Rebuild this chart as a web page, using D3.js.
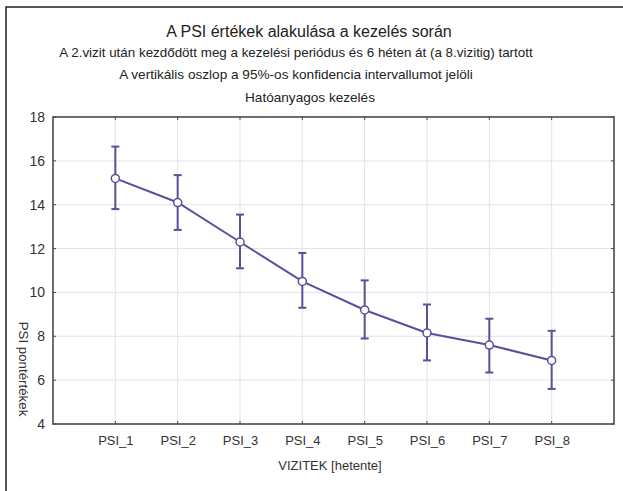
<!DOCTYPE html>
<html>
<head>
<meta charset="utf-8">
<script src="https://cdn.jsdelivr.net/npm/d3@7"></script>
<style>
  html, body { margin: 0; padding: 0; background: #fff; }
  svg { display: block; font-family: "Liberation Sans", Arial, sans-serif; }
</style>
</head>
<body>
<svg id="chart" width="623" height="491"></svg>
<script>
// Visits (weekly) and PSI score means with 95% confidence limits
const visits = ["PSI_1", "PSI_2", "PSI_3", "PSI_4", "PSI_5", "PSI_6", "PSI_7", "PSI_8"];
const means  = [15.2, 14.1, 12.3, 10.5, 9.2, 8.15, 7.6, 6.9];
const upper  = [16.65, 15.35, 13.55, 11.8, 10.55, 9.45, 8.8, 8.25];
const lower  = [13.8, 12.85, 11.1, 9.3, 7.9, 6.9, 6.35, 5.6];
const yTicks = [4, 6, 8, 10, 12, 14, 16, 18];

const titleLines = [
  { text: "A PSI értékek alakulása a kezelés során", size: 16, cx: 309, y: 37 },
  { text: "A 2.vizit után kezdődött meg a kezelési periódus és 6 héten át (a 8.vizitig) tartott", size: 13.4, cx: 296, y: 57 },
  { text: "A vertikális oszlop a 95%-os konfidencia intervallumot jelöli", size: 13.6, cx: 296, y: 79 },
  { text: "Hatóanyagos kezelés", size: 13.6, cx: 310, y: 102 }
];

const svg = d3.select("#chart");
const plot = { left: 53, right: 614, top: 117, bottom: 424 };
const ink = "#5a4f9b";
const frame = "#4a4a4a";

// outer frame of the figure
svg.append("rect")
  .attr("x", 6).attr("y", 7).attr("width", 640).attr("height", 520)
  .attr("fill", "none").attr("stroke", "#222").attr("stroke-width", 1.5);

const x = d3.scaleLinear().domain([0, visits.length + 1]).range([plot.left, plot.right]);
const y = d3.scaleLinear().domain([4, 18]).range([plot.bottom, plot.top]);
const xPos = i => x(i + 1);

// grid
const grid = svg.append("g").attr("stroke", "#e2e2ea").attr("stroke-width", 1);
grid.selectAll("line.v").data(visits).join("line")
  .attr("x1", (d, i) => xPos(i)).attr("x2", (d, i) => xPos(i))
  .attr("y1", plot.top).attr("y2", plot.bottom);
grid.selectAll("line.h").data(yTicks.slice(1, -1)).join("line")
  .attr("x1", plot.left).attr("x2", plot.right)
  .attr("y1", d => y(d)).attr("y2", d => y(d));

// axes
const xAxis = d3.axisBottom(d3.scaleOrdinal().domain(visits).range(visits.map((d, i) => xPos(i))))
  .tickSize(0).tickPadding(12);
const gx = svg.append("g").attr("transform", `translate(0,${plot.bottom})`).call(xAxis);
gx.select(".domain").remove();
gx.selectAll("text").attr("font-size", 13).attr("fill", "#333")
  .attr("font-family", "Liberation Sans, Arial, sans-serif");

const yAxis = d3.axisLeft(y).tickValues(yTicks).tickSize(0).tickPadding(8);
const gy = svg.append("g").attr("transform", `translate(${plot.left},0)`).call(yAxis);
gy.select(".domain").remove();
gy.selectAll("text").attr("font-size", 14).attr("fill", "#333")
  .attr("font-family", "Liberation Sans, Arial, sans-serif");

// inner tick marks on all four sides
const ticks = svg.append("g").attr("stroke", frame).attr("stroke-width", 1);
visits.forEach((d, i) => {
  ticks.append("line").attr("x1", xPos(i)).attr("x2", xPos(i)).attr("y1", plot.bottom).attr("y2", plot.bottom - 3);
  ticks.append("line").attr("x1", xPos(i)).attr("x2", xPos(i)).attr("y1", plot.top).attr("y2", plot.top + 3);
});
yTicks.forEach(t => {
  ticks.append("line").attr("x1", plot.left).attr("x2", plot.left + 3).attr("y1", y(t)).attr("y2", y(t));
  ticks.append("line").attr("x1", plot.right).attr("x2", plot.right - 3).attr("y1", y(t)).attr("y2", y(t));
});

// plot frame
svg.append("rect")
  .attr("x", plot.left).attr("y", plot.top)
  .attr("width", plot.right - plot.left).attr("height", plot.bottom - plot.top)
  .attr("fill", "none").attr("stroke", frame).attr("stroke-width", 1.6);

// confidence interval whiskers
const bars = svg.append("g").attr("stroke", ink).attr("stroke-width", 2);
visits.forEach((d, i) => {
  const cx = xPos(i);
  bars.append("line").attr("x1", cx).attr("x2", cx).attr("y1", y(upper[i])).attr("y2", y(lower[i]));
  bars.append("line").attr("x1", cx - 4).attr("x2", cx + 4).attr("y1", y(upper[i])).attr("y2", y(upper[i]));
  bars.append("line").attr("x1", cx - 4).attr("x2", cx + 4).attr("y1", y(lower[i])).attr("y2", y(lower[i]));
});

// mean line and markers
svg.append("path")
  .datum(means)
  .attr("fill", "none").attr("stroke", ink).attr("stroke-width", 2)
  .attr("d", d3.line().x((d, i) => xPos(i)).y(d => y(d)));
svg.selectAll("circle.m").data(means).join("circle")
  .attr("cx", (d, i) => xPos(i)).attr("cy", d => y(d)).attr("r", 4)
  .attr("fill", "#fff").attr("stroke", ink).attr("stroke-width", 1.5);

// titles
titleLines.forEach(t => {
  svg.append("text").attr("x", t.cx).attr("y", t.y).attr("text-anchor", "middle")
    .attr("font-size", t.size).attr("fill", "#222").text(t.text);
});

// axis titles
svg.append("text").attr("x", 330).attr("y", 470).attr("text-anchor", "middle")
  .attr("font-size", 13).attr("fill", "#333").text("VIZITEK [hetente]");
svg.append("text").attr("transform", "translate(19,369) rotate(90)").attr("text-anchor", "middle")
  .attr("font-size", 13.3).attr("fill", "#333").text("PSI pontértékek");
</script>
</body>
</html>
